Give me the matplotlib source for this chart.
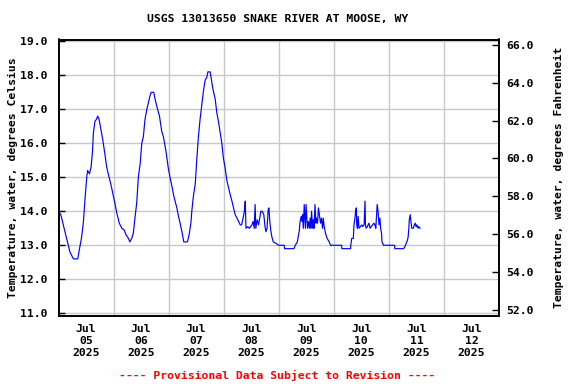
import matplotlib
matplotlib.use("Agg")
import matplotlib.pyplot as plt
import matplotlib.dates as mdates
import pandas as pd
import numpy as np

# hours since 2025-07-05 00:00 and water temperature (deg C)
hours = [0, 1, 2.1, 3.6, 5.0, 6.5, 8.4, 8.9, 10.1, 10.8, 11.6, 12.3, 12.7, 13.5, 14.2, 14.8,
         15.2, 15.9, 16.5, 17.1, 17.7, 18.5, 19.3, 20.3, 21.0, 21.7, 22.8, 23.9, 24.7, 25.4,
         26.5, 27.6, 28.6, 29.5, 30.5, 31.1, 31.9, 32.6, 33.4, 34.1, 34.8, 35.6, 36.3, 37.0,
         37.7, 38.5, 39.2, 39.9, 40.4, 41.5, 42.1, 42.8, 44.0, 45.0, 45.7, 46.5, 47.2, 47.9,
         48.6, 49.4, 50.1, 50.8, 51.6, 52.3, 53.0, 53.8, 54.6, 56.2, 56.9, 57.7, 58.1, 58.8,
         59.6, 60.3, 61.0, 61.7, 62.5, 63.2, 63.9, 64.7, 65.1, 66.1, 67.3, 68.3, 69.0, 69.7,
         70.5, 71.2, 71.9, 72.7, 73.4, 74.1, 74.8, 75.6, 76.3, 77.0, 77.8, 78.5, 79.2, 79.8,
         80.6, 81.0, 81.4, 81.7, 82.5, 83.2, 84.3, 84.8, 85.3, 85.7, 86.0, 86.6, 87.2, 88.2,
         88.8, 89.5, 90.0, 90.4, 90.9, 91.4, 91.7, 92.1, 92.6, 93.0, 93.6, 95.0, 95.8, 98.4,
         98.5, 102.6, 103.2, 104.1, 104.6, 104.9, 105.3, 105.8, 106.1, 106.4, 106.7, 107.1,
         107.6, 107.9, 108.5, 108.9, 109.3, 109.7, 110.0, 110.3, 110.8, 111.1, 111.4, 111.8,
         112.2, 112.5, 112.9, 113.3, 113.6, 114.2, 114.6, 115.1, 115.4, 115.8, 116.4, 117.1,
         118.0, 118.6, 123.4, 123.5, 127.3, 127.4, 127.8, 128.5, 128.8, 129.2, 129.5, 129.8,
         130.0, 130.3, 130.6, 131.0, 132.2, 132.6, 133.2, 133.6, 133.8, 134.1, 134.6, 135.3,
         135.8, 136.3, 136.9, 137.5, 137.9, 138.3, 138.9, 139.3, 139.7, 140.1, 140.4, 140.8,
         141.0, 141.7, 146.5, 146.6, 150.4, 150.9, 151.5, 152.1, 152.4, 152.7, 152.9, 153.3,
         153.6, 154.0, 154.6, 155.1, 155.5, 155.9, 156.2, 156.7, 157.0, 157.6]
temp_c = [14.0, 13.9, 13.6, 13.2, 12.8, 12.6, 12.6, 12.8, 13.25, 13.65, 14.4, 15.0, 15.2, 15.1, 15.3, 15.75,
          16.3, 16.65, 16.7, 16.8, 16.7, 16.4, 16.1, 15.65, 15.3, 15.1, 14.8, 14.45, 14.2, 13.95,
          13.65, 13.5, 13.45, 13.3, 13.2, 13.1, 13.2, 13.35, 13.85, 14.25, 15.0, 15.4, 16.0, 16.2,
          16.7, 17.0, 17.2, 17.4, 17.5, 17.5, 17.3, 17.1, 16.8, 16.35, 16.2, 15.9, 15.6, 15.25,
          15.0, 14.75, 14.5, 14.3, 14.1, 13.85, 13.65, 13.4, 13.1, 13.1, 13.3, 13.65, 14.0, 14.45,
          14.8, 15.55, 16.2, 16.7, 17.15, 17.55, 17.85, 17.95, 18.1, 18.1, 17.6, 17.3, 16.9, 16.65,
          16.3, 16.0, 15.55, 15.25, 14.9, 14.7, 14.5, 14.3, 14.1, 13.9, 13.8, 13.7, 13.6, 13.6,
          13.85, 14.0, 14.3, 13.5, 13.55, 13.5, 13.6, 13.7, 13.5, 14.2, 13.5, 13.75, 13.6, 14.0,
          14.0, 13.9, 13.55, 13.4, 13.5, 14.05, 14.1, 13.7, 13.4, 13.25, 13.1, 13.05, 13.0, 13.0,
          12.9, 12.9, 13.0, 13.1, 13.3, 13.4, 13.7, 13.85, 13.7, 13.9, 13.5, 14.2,
          13.5, 14.2, 13.5, 13.7, 13.5, 13.8, 13.5, 14.0, 13.5, 13.75, 13.5, 14.2,
          13.65, 13.8, 13.65, 14.1, 13.95, 13.65, 13.8, 13.5, 13.8, 13.55, 13.35, 13.2,
          13.1, 13.0, 13.0, 12.9, 12.9, 13.0, 13.2, 13.2, 13.6, 13.8, 14.0, 14.1,
          13.6, 13.5, 13.85, 13.5, 13.6, 13.55, 13.6, 14.3, 13.6, 13.5, 13.55, 13.65,
          13.5, 13.55, 13.6, 13.65, 13.6, 13.5, 14.2, 14.0, 13.6, 13.8, 13.5, 13.35,
          13.1, 13.0, 13.0, 12.9, 12.9, 12.95, 13.05, 13.15, 13.25, 13.5, 13.75, 13.9,
          13.7, 13.5, 13.5, 13.6, 13.65, 13.55, 13.6, 13.5, 13.55, 13.5]

y_ticks_c = [11.0, 12.0, 13.0, 14.0, 15.0, 16.0, 17.0, 18.0, 19.0]
y_ticks_f = [52.0, 54.0, 56.0, 58.0, 60.0, 62.0, 64.0, 66.0]
day_labels = ["Jul\n05\n2025", "Jul\n06\n2025", "Jul\n07\n2025", "Jul\n08\n2025",
              "Jul\n09\n2025", "Jul\n10\n2025", "Jul\n11\n2025", "Jul\n12\n2025"]

title = "USGS 13013650 SNAKE RIVER AT MOOSE, WY"
ylabel_left = "Temperature, water, degrees Celsius"
ylabel_right = "Temperature, water, degrees Fahrenheit"
note = "---- Provisional Data Subject to Revision ----"

FONT = "DejaVu Sans Mono"
FS = 8.2

start = pd.Timestamp("2025-07-05")
times = start + pd.to_timedelta(hours, unit="h")

fig = plt.figure(figsize=(5.76, 3.84), dpi=100)
ax = fig.add_axes([58.5 / 576, 1 - 316 / 384, (499 - 58.5) / 576, (316 - 39.5) / 384])

ax.plot(times, temp_c, color="#0000ff", linewidth=0.85)

ylo, yhi = 10.92, 19.053
ax.set_ylim(ylo, yhi)
x0 = mdates.date2num(start)
ax.set_xlim(x0, x0 + 8)

midnights = [x0 + i for i in range(1, 8)]
noons = [x0 + i + 0.5 for i in range(8)]
ax.set_xticks(noons)
ax.set_xticklabels(day_labels, fontfamily=FONT, fontweight="bold", fontsize=FS, linespacing=1.25)
ax.set_xticks(midnights, minor=True)
ax.tick_params(axis="x", which="both", length=0, pad=6)
ax.grid(True, axis="x", which="minor", color="#c8c8c8", linewidth=1.0)

ax.set_yticks(y_ticks_c)
ax.set_yticklabels([f"{v:.1f}" for v in y_ticks_c], fontfamily=FONT, fontweight="bold", fontsize=FS)
ax.tick_params(axis="y", direction="in", length=4, pad=8, width=1)
ax.grid(True, axis="y", which="major", color="#c8c8c8", linewidth=1.0)
ax.set_ylabel(ylabel_left, fontfamily=FONT, fontweight="bold", fontsize=FS, labelpad=1)

ax2 = ax.twinx()
ax2.set_ylim(ylo * 1.8 + 32, yhi * 1.8 + 32)
ax2.set_yticks(y_ticks_f)
ax2.set_yticklabels([f"{v:.1f}" for v in y_ticks_f], fontfamily=FONT, fontweight="bold", fontsize=FS)
ax2.tick_params(axis="y", direction="in", length=5, pad=5, width=1)
ax2.set_ylabel(ylabel_right, fontfamily=FONT, fontweight="bold", fontsize=FS, labelpad=15)

for a in (ax, ax2):
    for s in a.spines.values():
        s.set_linewidth(1.2)
        s.set_color("black")

fig.text(278 / 576, 1 - 19 / 384, title, ha="center", va="center",
         fontfamily=FONT, fontweight="bold", fontsize=FS)
fig.text(277 / 576, 1 - 375 / 384, note, ha="center", va="center", color="red",
         fontfamily=FONT, fontweight="bold", fontsize=FS)

fig.savefig("out.png", dpi=100)
